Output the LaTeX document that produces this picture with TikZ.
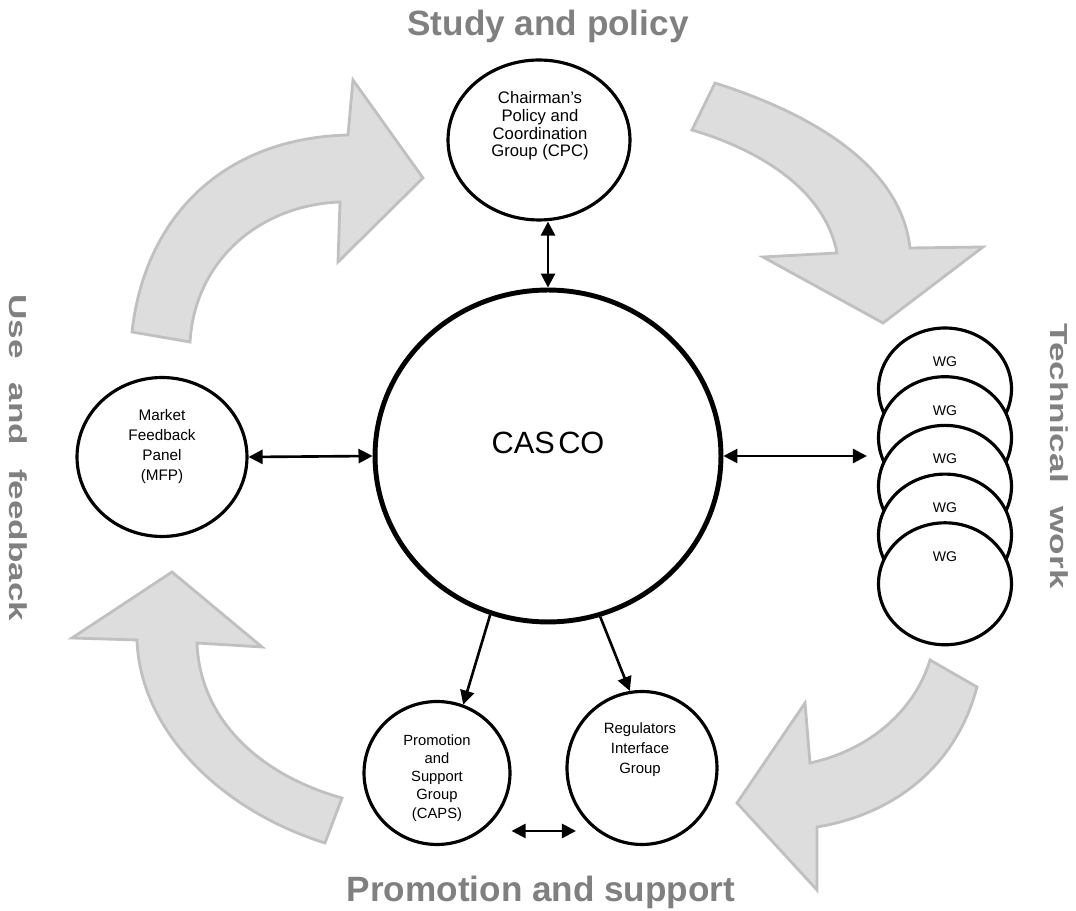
\documentclass[tikz,border=0pt]{standalone}
\usepackage{fontspec}
\setmainfont{Liberation Sans}
\usetikzlibrary{shapes.geometric, arrows.meta}
\definecolor{titlegray}{RGB}{128,128,128}
\definecolor{flowfill}{RGB}{221,221,221}
\definecolor{flowline}{RGB}{192,192,192}

\begin{document}
\begin{tikzpicture}[
    x=0.02cm, y=-0.02cm,
    group/.style={ellipse, draw, line width=1.8pt, fill=white, inner sep=0pt},
    core/.style={ellipse, draw, line width=2.8pt, fill=white, inner sep=0pt, minimum width=6.92cm, minimum height=6.64cm},
    wgroup/.style={group, minimum width=2.66cm, minimum height=2.44cm},
    small/.style={align=center, inner sep=0pt},
    title/.style={font=\fontsize{20}{24}\selectfont\bfseries, text=titlegray, anchor=base, inner sep=0pt},
    flow/.style={fill=flowfill, draw=flowline, line width=1.6pt},
    arrow/.style={{Triangle[length=8pt,width=8pt]}-{Triangle[length=8pt,width=8pt]}, line width=1.5pt},
    toarrow/.style={-{Triangle[length=8pt,width=8pt]}, line width=1.5pt}
]
\useasboundingbox (0,0) rectangle (1076,911);

% Cycle arrows
\draw[flow] (132,332) .. controls (145,215) and (225,138) .. (348,135) -- (353,80) -- (423,178) -- (338,262) -- (340,202) .. controls (260,205) and (195,260) .. (190,342) -- cycle;
\draw[flow] (715,83) .. controls (800,110) and (900,160) .. (910,248) -- (983,247) -- (883,323) -- (763,257) -- (837,253) .. controls (825,190) and (760,150) .. (692,130) -- cycle;
\draw[flow] (977,687) .. controls (955,770) and (890,815) .. (817,827) -- (817,890) -- (737,803) -- (805,703) -- (810,763) .. controls (870,750) and (915,710) .. (930,660) -- cycle;
\draw[flow] (325,843) .. controls (220,810) and (140,730) .. (137,640) -- (72,638) -- (172,572) -- (262,647) -- (197,643) .. controls (200,720) and (260,775) .. (342,798) -- cycle;

% Titles
\node[title] (study) at (548,36) {Study and policy};
\node[title] (promo) at (541,902) {Promotion and support};
\node[title, rotate=-90] (use) at (10,458) {\scalebox{1}[0.7]{Use\hspace{8pt} and\hspace{8pt} feedback}};
\node[title, rotate=-90] (tech) at (1050,456) {\scalebox{1}[0.7]{Technical\hspace{8pt} work}};

% Groups
\node[core] (casco) at (548,456) {};
\node[font=\fontsize{17.5}{20}\selectfont] (cascotext) at (548,443) {CAS\kern2pt CO};

\node[group, minimum width=3.64cm, minimum height=3.2cm] (cpc) at (539,140) {};
\node[small, font=\fontsize{9.5}{10}\selectfont] (cpctext) at (540,126) {Chairman's\\Policy and\\Coordination\\Group (CPC)};

\node[group, minimum width=3.4cm, minimum height=3.18cm] (mfp) at (162,457) {};
\node[small, font=\fontsize{8.7}{11.4}\selectfont] (mfptext) at (162,447) {Market\\Feedback\\Panel\\(MFP)};

\node[group, minimum width=2.92cm, minimum height=2.86cm] (caps) at (437,773) {};
\node[small, font=\fontsize{8.4}{10.3}\selectfont] (capstext) at (437,778) {Promotion\\and\\Support\\Group\\(CAPS)};

\node[group, minimum width=3cm, minimum height=3.06cm] (reg) at (642,768) {};
\node[small, font=\fontsize{8.5}{11.4}\selectfont] (regtext) at (640,750) {Regulators\\Interface\\Group};

% Working groups
\foreach \i in {1,...,5} {
  \node[wgroup] (wg\i) at (945,340.3+48.7*\i) {};
  \node[font=\fontsize{8}{9}\selectfont] (wgtext\i) at (945,313+48.7*\i) {WG};
}

% Links
\draw[arrow] (casco.north |- cpc.south) -- (casco.north);
\draw[arrow] (mfp.east) -- (casco.west);
\draw[arrow, shorten >=5.7pt] (casco.east) -- (casco.east -| wg2.west);
\draw[toarrow] (casco.-110) -- (caps.69);
\draw[toarrow] (casco.-72) -- (reg.99);
\draw[arrow] ([yshift=-33pt]caps.east) -- ([yshift=-33pt,xshift=6pt]caps.east -| reg.west);
\end{tikzpicture}
\end{document}
